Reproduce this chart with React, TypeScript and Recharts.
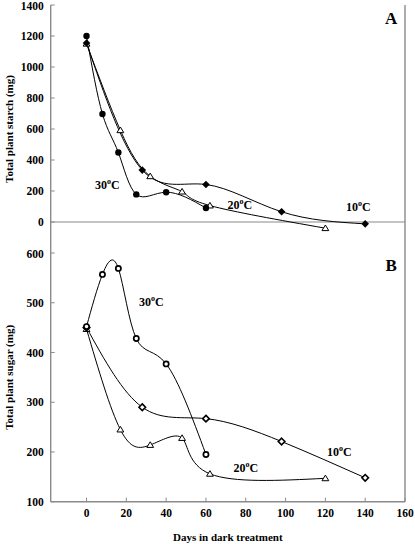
import React from "react";
import { LineChart, Line, XAxis, YAxis, ReferenceLine, ReferenceDot } from "recharts";

// days in dark treatment
const dayTicks = [0, 20, 40, 60, 80, 100, 120, 140, 160];
const starchTicks = [0, 200, 400, 600, 800, 1000, 1200, 1400];
const sugarTicks = [100, 200, 300, 400, 500, 600];

// panel A: total plant starch (mg)
const starch30 = [
  { day: 0, value: 1200 },
  { day: 8, value: 697 },
  { day: 16, value: 448 },
  { day: 25, value: 178 },
  { day: 40, value: 192 },
  { day: 60, value: 90 },
];
const starch20 = [
  { day: 0, value: 1150 },
  { day: 17, value: 592 },
  { day: 32, value: 295 },
  { day: 48, value: 196 },
  { day: 62, value: 106 },
  { day: 120, value: -40 },
];
const starch10 = [
  { day: 0, value: 1155 },
  { day: 28, value: 335 },
  { day: 60, value: 242 },
  { day: 98, value: 66 },
  { day: 140, value: -12 },
];

// panel B: total plant sugar (mg)
const sugar30 = [
  { day: 0, value: 452 },
  { day: 8, value: 557 },
  { day: 16, value: 569 },
  { day: 25, value: 428 },
  { day: 40, value: 377 },
  { day: 60, value: 195 },
];
const sugar20 = [
  { day: 0, value: 447 },
  { day: 17, value: 245 },
  { day: 32, value: 214 },
  { day: 48, value: 228 },
  { day: 62, value: 156 },
  { day: 120, value: 147 },
];
const sugar10 = [
  { day: 0, value: 450 },
  { day: 28, value: 290 },
  { day: 60, value: 267 },
  { day: 98, value: 221 },
  { day: 140, value: 148 },
];

// temperature annotations (data coordinates)
const starchNotes = [
  { temp: "30", day: 10.5, value: 240 },
  { temp: "20", day: 77, value: 110 },
  { temp: "10", day: 136.5, value: 97 },
];
const sugarNotes = [
  { temp: "30", day: 32.5, value: 501 },
  { temp: "20", day: 80, value: 167 },
  { temp: "10", day: 127, value: 199 },
];

const FONT = "'Liberation Serif', 'Times New Roman', serif";
const FRAME = "#8a8a8a";

const tickStyle = { fontFamily: FONT, fontWeight: 700, fontSize: 11.5, fill: "#000" };

const FilledCircle = (p: any) => <circle key={p.index} cx={p.cx} cy={p.cy} r={3.2} fill="#000" />;
const OpenCircle = (p: any) => (
  <circle key={p.index} cx={p.cx} cy={p.cy} r={2.6} fill="#fff" stroke="#000" strokeWidth={1.7} />
);
const diamondPath = (cx: number, cy: number, s: number) =>
  `M${cx},${cy - s}L${cx + s},${cy}L${cx},${cy + s}L${cx - s},${cy}Z`;
const FilledDiamond = (p: any) => <path key={p.index} d={diamondPath(p.cx, p.cy, 3.8)} fill="#000" />;
const OpenDiamond = (p: any) => (
  <path key={p.index} d={diamondPath(p.cx, p.cy, 3.3)} fill="#fff" stroke="#000" strokeWidth={1.6} />
);
const OpenTriangle = (p: any) => (
  <path
    key={p.index}
    d={`M${p.cx},${p.cy - 3.2}L${p.cx + 3.4},${p.cy + 2.4}L${p.cx - 3.4},${p.cy + 2.4}Z`}
    fill="#fff"
    stroke="#000"
    strokeWidth={1}
  />
);

const TempLabel = ({ viewBox, temp }: any) => {
  const x = viewBox.x + viewBox.width / 2;
  const y = viewBox.y + viewBox.height / 2;
  return (
    <text x={x} y={y + 4} textAnchor="middle" fontFamily={FONT} fontWeight={700} fontSize={12} fill="#000">
      {temp}
      <tspan dy={-5} fontSize={8}>o</tspan>
      <tspan dy={5}>C</tspan>
    </text>
  );
};

const PanelLetter = ({ viewBox, letter }: any) => (
  <text
    x={viewBox.x + viewBox.width / 2}
    y={viewBox.y + viewBox.height / 2 + 6}
    textAnchor="middle"
    fontFamily={FONT}
    fontWeight={700}
    fontSize={17}
    fill="#000"
  >
    {letter}
  </text>
);

const frameAxes = (domain: number[], yTicks: number[], title: string, showX: boolean) => [
  <XAxis
    key="xb"
    xAxisId={0}
    dataKey="day"
    type="number"
    domain={[-18, 160]}
    ticks={dayTicks}
    allowDataOverflow
    tick={showX ? tickStyle : false}
    tickSize={-4}
    tickMargin={11}
    height={showX ? 42.3 : 0}
    axisLine={{ stroke: FRAME, strokeWidth: 1.4 }}
    tickLine={{ stroke: FRAME }}
    label={
      showX
        ? {
            value: "Days in dark treatment",
            position: "insideBottom",
            offset: 3,
            style: { fontFamily: FONT, fontWeight: 700, fontSize: 11, fill: "#000" },
          }
        : undefined
    }
  />,
  <XAxis
    key="xt"
    xAxisId="top"
    orientation="top"
    dataKey="day"
    type="number"
    domain={[-18, 160]}
    ticks={dayTicks}
    allowDataOverflow
    tick={false}
    tickSize={-4}
    height={0}
    axisLine={{ stroke: FRAME, strokeWidth: 1.4 }}
    tickLine={{ stroke: FRAME }}
  />,
  <YAxis
    key="yl"
    yAxisId={0}
    type="number"
    domain={domain}
    ticks={yTicks}
    allowDataOverflow
    tick={tickStyle}
    tickSize={-4}
    tickMargin={11}
    width={50.7}
    axisLine={{ stroke: FRAME, strokeWidth: 1.4 }}
    tickLine={{ stroke: FRAME }}
    label={{
      value: title,
      angle: -90,
      position: "insideLeft",
      offset: 9,
      style: { textAnchor: "middle", fontFamily: FONT, fontWeight: 700, fontSize: 11, fill: "#000" },
    }}
  />,
  <YAxis
    key="yr"
    yAxisId="right"
    orientation="right"
    type="number"
    domain={domain}
    ticks={yTicks}
    allowDataOverflow
    tick={false}
    tickSize={-4}
    width={10}
    axisLine={{ stroke: FRAME, strokeWidth: 1.4 }}
    tickLine={{ stroke: FRAME }}
  />,
];

export default function App() {
  return (
    <div style={{ position: "absolute", left: 0, top: 0, width: 415, height: 544, background: "#fff" }}>
      <div style={{ position: "absolute", left: 0, top: 0 }}>
        <LineChart width={415} height={258} margin={{ top: 5, right: 0, bottom: 5, left: 0 }}>
          {frameAxes([-200, 1400], starchTicks, "Total plant starch (mg)", false)}
          <ReferenceLine y={0} stroke="#b0b0b0" strokeWidth={1.4} />
          <Line data={starch20} dataKey="value" type="natural" stroke="#000" strokeWidth={1} dot={OpenTriangle} isAnimationActive={false} />
          <Line data={starch10} dataKey="value" type="natural" stroke="#000" strokeWidth={1} dot={FilledDiamond} isAnimationActive={false} />
          <Line data={starch30} dataKey="value" type="natural" stroke="#000" strokeWidth={1} dot={FilledCircle} isAnimationActive={false} />
          {starchNotes.map((n) => (
            <ReferenceDot key={n.temp} x={n.day} y={n.value} r={0} label={<TempLabel temp={n.temp} />} />
          ))}
          <ReferenceDot x={153} y={1316} r={0} label={<PanelLetter letter="A" />} />
        </LineChart>
      </div>
      <div style={{ position: "absolute", left: 0, top: 248 }}>
        <LineChart width={415} height={296} margin={{ top: 5, right: 0, bottom: 0, left: 0 }}>
          {frameAxes([100, 600], sugarTicks, "Total plant sugar (mg)", true)}
          <Line data={sugar20} dataKey="value" type="natural" stroke="#000" strokeWidth={1} dot={OpenTriangle} isAnimationActive={false} />
          <Line data={sugar10} dataKey="value" type="natural" stroke="#000" strokeWidth={1} dot={OpenDiamond} isAnimationActive={false} />
          <Line data={sugar30} dataKey="value" type="natural" stroke="#000" strokeWidth={1} dot={OpenCircle} isAnimationActive={false} />
          {sugarNotes.map((n) => (
            <ReferenceDot key={n.temp} x={n.day} y={n.value} r={0} label={<TempLabel temp={n.temp} />} />
          ))}
          <ReferenceDot x={153} y={576} r={0} label={<PanelLetter letter="B" />} />
        </LineChart>
      </div>
    </div>
  );
}
